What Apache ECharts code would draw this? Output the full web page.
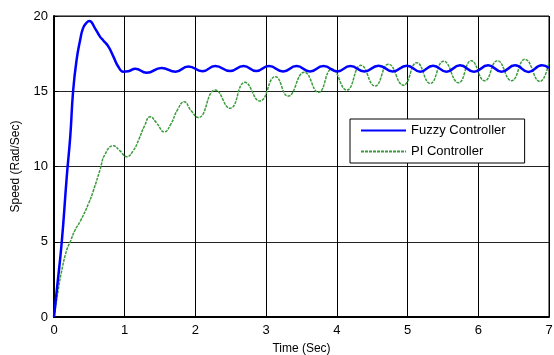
<!DOCTYPE html>
<html>
<head>
<meta charset="utf-8">
<script src="https://cdn.jsdelivr.net/npm/echarts@6/dist/echarts.min.js"></script>
<style>
  html, body { margin: 0; padding: 0; background: #fff; }
  #chart { width: 554px; height: 355px; }
</style>
</head>
<body>
<div id="chart"></div>
<script>
// Fuzzy controller response (time in sec, speed in rad/sec)
const fuzzyTime = [0, 0.04, 0.11, 0.18, 0.23, 0.27, 0.32, 0.37, 0.41, 0.46, 0.5, 0.58, 0.65, 0.7, 0.77, 0.84, 0.91, 0.98, 1.05, 1.15, 1.31, 1.52, 1.72, 1.9, 2.1, 2.28, 2.49, 2.68, 2.86, 3.04, 3.24, 3.43, 3.62, 3.81, 4.01, 4.19, 4.39, 4.59, 4.79, 4.99, 5.18, 5.36, 5.55, 5.74, 5.94, 6.14, 6.33, 6.52, 6.71, 6.9, 7.0];
const fuzzySpeed = [0, 1.8, 5, 9.3, 12, 15, 17.1, 18.4, 19.18, 19.55, 19.67, 19.18, 18.63, 18.36, 17.96, 17.3, 16.63, 16.3, 16.33, 16.5, 16.23, 16.55, 16.3, 16.65, 16.33, 16.68, 16.35, 16.68, 16.35, 16.68, 16.32, 16.68, 16.32, 16.68, 16.32, 16.68, 16.32, 16.7, 16.32, 16.7, 16.3, 16.7, 16.3, 16.72, 16.3, 16.72, 16.3, 16.72, 16.28, 16.72, 16.55];

// PI controller response
const piTime = [0, 0.06, 0.11, 0.18, 0.23, 0.3, 0.37, 0.49, 0.56, 0.65, 0.72, 0.84, 0.93, 1.03, 1.12, 1.2, 1.28, 1.36, 1.45, 1.56, 1.65, 1.75, 1.84, 1.94, 2.04, 2.28, 2.49, 2.7, 2.91, 3.13, 3.31, 3.54, 3.74, 3.93, 4.14, 4.34, 4.54, 4.73, 4.94, 5.13, 5.32, 5.51, 5.72, 5.9, 6.09, 6.27, 6.47, 6.66, 6.87, 7.0];
const piSpeed = [0, 1.8, 3.1, 4.45, 5.0, 5.8, 6.35, 7.55, 8.44, 9.77, 10.8, 11.38, 11.05, 10.65, 11.05, 11.8, 12.7, 13.3, 12.9, 12.3, 12.8, 13.8, 14.3, 13.7, 13.25, 15.08, 13.87, 15.59, 14.35, 15.97, 14.68, 16.26, 14.93, 16.48, 15.08, 16.72, 15.35, 16.8, 15.4, 16.9, 15.52, 17.0, 15.57, 17.03, 15.7, 17.03, 15.7, 17.12, 15.65, 16.9];

const xTicks = [0, 1, 2, 3, 4, 5, 6, 7];
const yTicks = [0, 5, 10, 15, 20];

const font = "Liberation Sans, Arial, sans-serif";
const zip = (xs, ys) => xs.map((x, i) => [x, ys[i]]);

const chart = echarts.init(document.getElementById("chart"));

chart.setOption({
  animation: false,
  grid: {
    left: 54,
    right: 5,
    top: 16,
    bottom: 38,
    outerBoundsMode: "none",
    show: true,
    borderColor: "#000",
    borderWidth: 1,
  },
  legend: {
    orient: "vertical",
    left: 350,
    top: 119,
    padding: [5, 19, 5, 10],
    itemGap: 8,
    itemWidth: 45,
    itemHeight: 14,
    backgroundColor: "#fff",
    borderColor: "#000",
    borderWidth: 1,
    itemStyle: { opacity: 0 },
    textStyle: { fontFamily: font, fontSize: 13, color: "#000" },
    data: ["Fuzzy Controller", "PI Controller"],
  },
  xAxis: {
    type: "value",
    min: xTicks[0],
    max: xTicks[xTicks.length - 1],
    interval: 1,
    name: "Time (Sec)",
    nameLocation: "middle",
    nameGap: 26,
    nameTextStyle: { fontFamily: font, fontSize: 12, color: "#000" },
    axisLine: { lineStyle: { color: "#000", width: 2 } },
    axisTick: { inside: true, length: 4, lineStyle: { color: "#000" } },
    axisLabel: { fontFamily: font, fontSize: 13, color: "#000", margin: 7 },
    splitLine: { show: true, lineStyle: { color: "#000", width: 1 } },
  },
  yAxis: {
    type: "value",
    min: yTicks[0],
    max: yTicks[yTicks.length - 1],
    interval: 5,
    name: "Speed (Rad/Sec)",
    nameLocation: "middle",
    nameGap: 32,
    nameTextStyle: { fontFamily: font, fontSize: 12, color: "#000" },
    axisLine: { show: true, lineStyle: { color: "#000", width: 2 } },
    axisTick: { show: true, inside: true, length: 4, lineStyle: { color: "#000" } },
    axisLabel: { fontFamily: font, fontSize: 13, color: "#000", margin: 6 },
    splitLine: { show: true, lineStyle: { color: "#222", width: 1 } },
  },
  series: [
    {
      name: "Fuzzy Controller",
      type: "line",
      smooth: 0.5,
      symbol: "none",
      lineStyle: { color: "#0000ff", width: 2.5 },
      itemStyle: { color: "#0000ff" },
      data: zip(fuzzyTime, fuzzySpeed),
      z: 3,
    },
    {
      name: "PI Controller",
      type: "line",
      smooth: 0.5,
      symbol: "none",
      lineStyle: { color: "#3c9c3c", width: 1.5, type: [3, 1] },
      itemStyle: { color: "#3c9c3c" },
      data: zip(piTime, piSpeed),
      z: 2,
    },
  ],
});
</script>
</body>
</html>
